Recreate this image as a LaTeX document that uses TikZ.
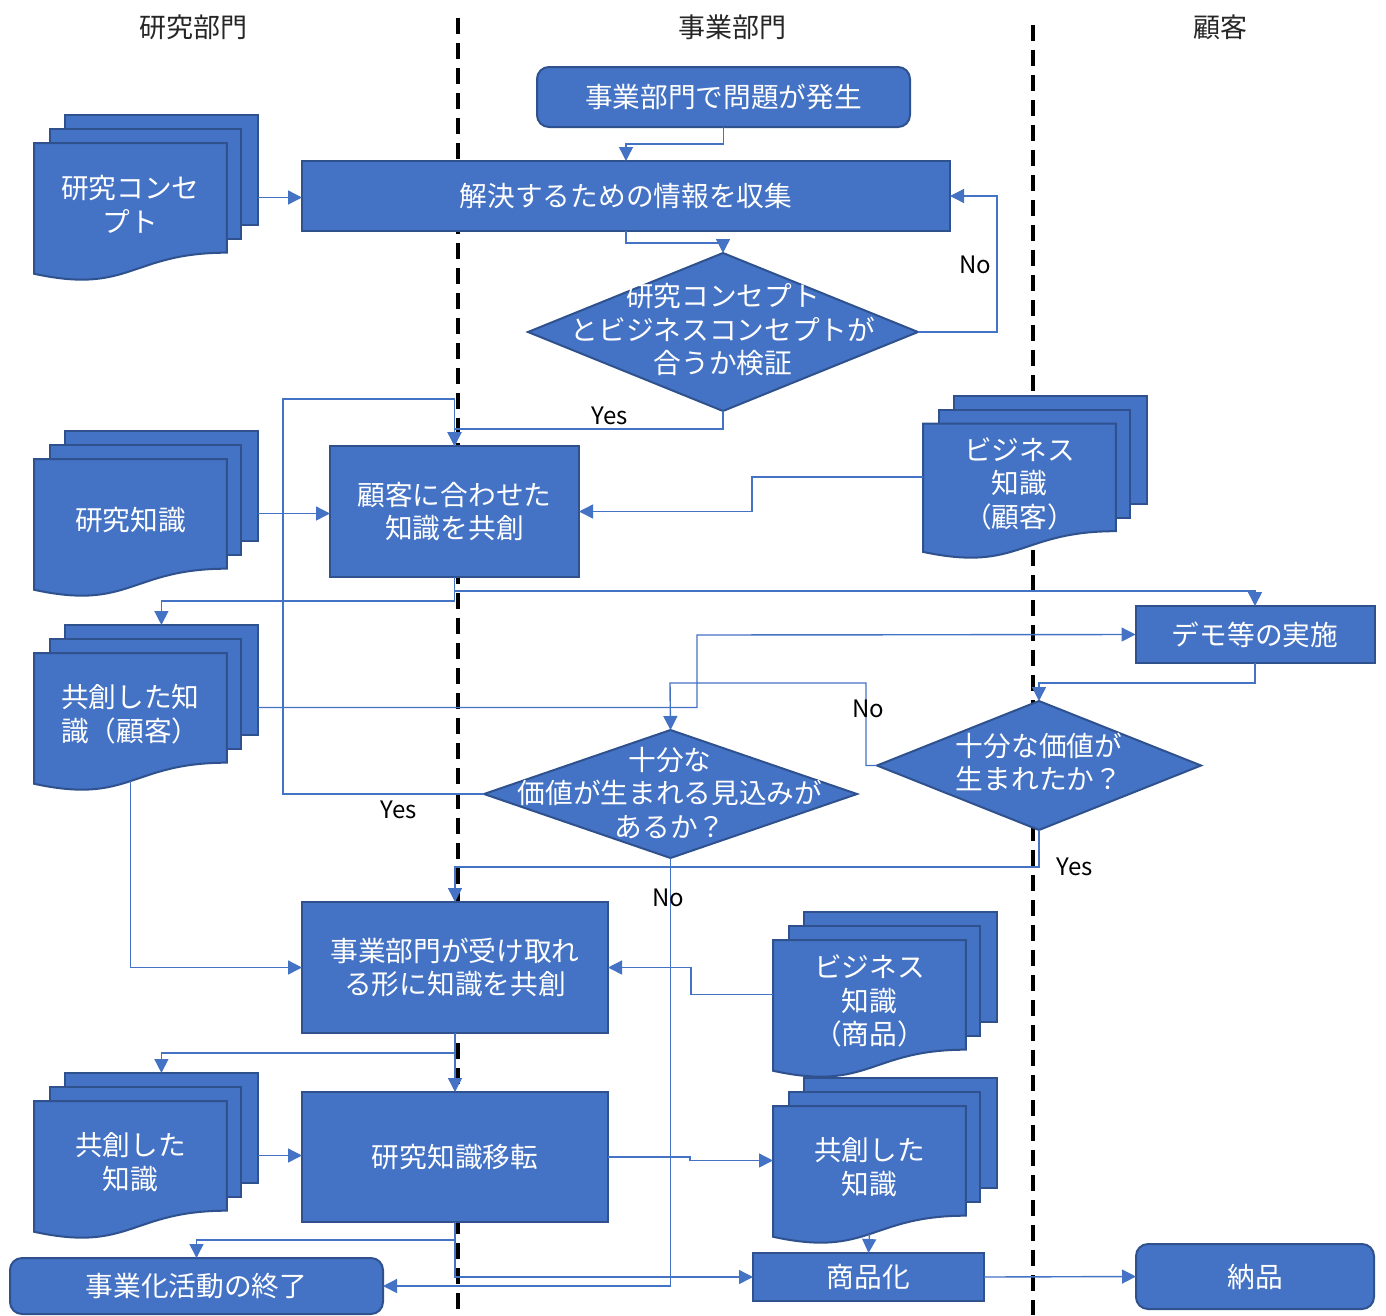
\documentclass[tikz,border=0pt]{standalone}
\usepackage{fontspec}
\setmainfont{Noto Sans CJK JP}
\usetikzlibrary{arrows.meta,shapes.geometric,calc}
\definecolor{fillblue}{HTML}{4472C4}
\definecolor{edgeblue}{HTML}{2F528F}
\definecolor{lineblue}{HTML}{4472C4}
\tikzset{
  shp/.style={fill=fillblue, draw=edgeblue, line width=2pt},
  proc/.style={shp, rectangle, inner sep=0pt, outer sep=0pt, text=white,
    font=\fontsize{27.7}{33.5}\selectfont, align=center},
  term/.style={proc, rounded corners=12pt},
  dec/.style={shp, diamond, inner sep=0pt, outer sep=0pt},
  txt/.style={text=white, font=\fontsize{27.7}{33.5}\selectfont, align=center, inner sep=0pt},
  conn/.style={draw=lineblue, line width=1.4pt, -{Triangle[length=14pt,width=14pt]}},
  lbl/.style={font=\fontsize{24}{28}\selectfont, inner sep=0pt, text=black},
  hdr/.style={font=\fontsize{27}{32}\selectfont, text=black!85, inner sep=0pt},
  lane/.style={line width=3.6pt, dash pattern=on 16pt off 9pt, black}
}
\newcommand{\mdoc}[6]{%
  \pgfmathsetmacro{\mdX}{#2}%
  \pgfmathsetmacro{\mdY}{#3}%
  \pgfmathsetmacro{\mdW}{#4}%
  \pgfmathsetmacro{\mdH}{#5}%
  \filldraw[shp] ({\mdX+0.1376*\mdW},{\mdY}) rectangle ({\mdX+\mdW},{\mdY+0.6663*\mdH});
  \filldraw[shp] ({\mdX+0.0709*\mdW},{\mdY+0.0840*\mdH}) rectangle ({\mdX+0.9259*\mdW},{\mdY+0.7524*\mdH});
  \filldraw[shp] ({\mdX},{\mdY+0.1701*\mdH}) -- ({\mdX+0.8609*\mdW},{\mdY+0.1701*\mdH})
     -- ({\mdX+0.8609*\mdW},{\mdY+0.8344*\mdH})
     .. controls ({\mdX+0.4305*\mdW},{\mdY+0.8344*\mdH}) and ({\mdX+0.4305*\mdW},{\mdY+1.0899*\mdH})
     .. ({\mdX},{\mdY+0.9621*\mdH}) -- cycle;
  \node[inner sep=0pt, outer sep=0pt, minimum width=#4, minimum height=#5, anchor=north west] (#1) at ({\mdX},{\mdY}) {};
  \node[txt] (#1-t) at ({\mdX+0.4305*\mdW},{\mdY+0.54*\mdH}) {#6};
  \coordinate (#1-top) at ({\mdX+0.5688*\mdW},{\mdY});
  \coordinate (#1-b) at ({\mdX+0.4305*\mdW},{\mdY+0.946*\mdH});
}
\begin{document}
\begin{tikzpicture}[x=1pt,y=-1pt]
\fill[white] (0,0) rectangle (1386,1315);
\useasboundingbox (0,0) rectangle (1386,1315);

% lanes
\coordinate (l1t) at (458,18);
\coordinate (l1b) at (458,1315);
\coordinate (l2t) at (1033,25);
\coordinate (l2b) at (1033,1315);
\draw[lane] (l1t) -- (l1b);
\draw[lane] (l2t) -- (l2b);

% headers
\node[hdr] (h1) at (193,27) {研究部門};
\node[hdr] (h2) at (732,27) {事業部門};
\node[hdr] (h3) at (1220,27) {顧客};

% nodes
\node[term, minimum width=373, minimum height=60] (A) at (723.5,97) {事業部門で問題が発生};
\node[proc, minimum width=648, minimum height=70] (B) at (626,196) {解決するための情報を収集};
\node[dec, minimum width=390, minimum height=158] (C) at (723,332) {};
\node[txt] (C-t) at (723,330) {研究コンセプト\\とビジネスコンセプトが\\合うか検証};
\mdoc{RC}{34}{115}{224}{165}{研究コンセ\\プト}
\node[proc, minimum width=249, minimum height=131] (D) at (454.5,511.5) {顧客に合わせた\\知識を共創};
\mdoc{E}{34}{431}{224}{165}{研究知識}
\mdoc{F}{923}{396}{224}{162}{ビジネス\\知識\\（顧客）}
\mdoc{H}{34}{625}{224}{165}{共創した知\\識（顧客）}
\node[proc, minimum width=239, minimum height=57] (I) at (1255,634.5) {デモ等の実施};
\node[dec, minimum width=324, minimum height=129] (J) at (1039,765.5) {};
\node[txt] (J-t) at (1039,762) {十分な価値が\\生まれたか？};
\node[dec, minimum width=373, minimum height=128] (G) at (670.5,794) {};
\node[txt] (G-t) at (670,793) {十分な\\価値が生まれる見込みが\\あるか？};
\node[proc, minimum width=306, minimum height=131] (K) at (455,967.5) {事業部門が受け取れ\\る形に知識を共創};
\mdoc{L}{773}{912}{224}{165}{ビジネス\\知識\\（商品）}
\mdoc{M}{34}{1073}{224}{165}{共創した\\知識}
\node[proc, minimum width=306, minimum height=130] (N) at (455,1157) {研究知識移転};
\mdoc{P}{773}{1078}{224}{165}{共創した\\知識}
\node[proc, minimum width=231, minimum height=48] (Q) at (868.5,1277) {商品化};
\node[term, minimum width=238, minimum height=65] (R) at (1255,1276.5) {納品};
\node[term, minimum width=373, minimum height=56] (S) at (196.5,1286) {事業化活動の終了};

% connectors
\draw[conn] (A.south) -- ++(0,17) -| (B.north);
\draw[conn] (B.south) -- ++(0,12) -| (C.north);
\draw[conn] (C.east) -- ++(79,0) |- (B.east);
\draw[conn] (C.south) -- ++(0,18) -| (D.north);
\draw[conn] (RC.east) -- (RC.east -| B.west);
\draw[conn] (E.east) -- (E.east -| D.west);
\draw[conn] (F.west) -- ++(-171,0) |- (D.east);
\draw[conn] (G.west) -| (283,399) -| (D.north);
\draw[conn] (D.south) -- ++(0,24) -| (H-top);
\draw[conn] (D.south) -- ++(0,14) -| (I.north);
\draw[conn] (H.east) -| (697,635) -- (I.west);
\draw[conn] (H-b) |- (K.west);
\draw[conn] (I.south) -- ++(0,20) -| (J.north);
\draw[conn] (J.west) -- ++(-11,0) |- (670,683) -- (G.north);
\draw[conn] (J.south) -- ++(0,37) -| (K.north);
\draw[conn] (G.south) |- (S.east);
\draw[conn] (L.west) -- ++(-82,0) |- (K.east);
\draw[conn] (K.south) -- ++(0,20) -| (M-top);
\draw[conn] (K.south) -- (N.north);
\draw[conn] (M.east) -- (M.east -| N.west);
\draw[conn] (N.east) -- ++(82,0) |- (P.west);
\draw[conn] (P-b) -- (Q.north);
\draw[conn] (Q.east) -- (R.west);
\draw[conn] (N.south) -- ++(0,18) -| (S.north);
\draw[conn] (N.south) |- (Q.west);

% labels
\node[lbl] (n1) at (975,265) {No};
\node[lbl] (y1) at (610,416) {Yes};
\node[lbl] (n2) at (868,709) {No};
\node[lbl] (y2) at (399,810) {Yes};
\node[lbl] (y3) at (1075,867) {Yes};
\node[lbl] (n3) at (668,898) {No};
\end{tikzpicture}
\end{document}
